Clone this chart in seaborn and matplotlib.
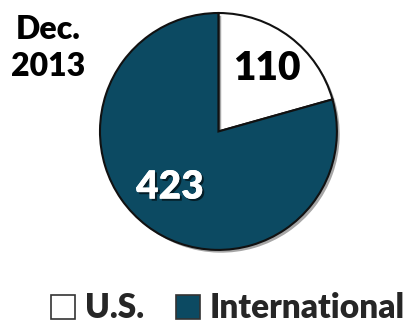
import matplotlib
matplotlib.use("Agg")
import matplotlib.pyplot as plt
import matplotlib.patheffects as pe
from matplotlib.patches import Patch
import seaborn as sns

# Customer counts by region
categories = ["U.S.", "International"]
values = [110, 423]
colors = ["#ffffff", "#0c4a62"]
title_text = "Dec.\n2013"

sns.set_theme(style="white")
plt.rcParams["font.family"] = ["Lato", "DejaVu Sans"]

WEIGHT = "heavy"

fig = plt.figure(figsize=(4.12, 3.23), dpi=100)
ax = fig.add_axes([0.2427, 0.226, 0.575, 0.734])

wedges, _ = ax.pie(
    values,
    colors=colors,
    startangle=90,
    counterclock=False,
    radius=1.0,
    wedgeprops=dict(edgecolor="#111111", linewidth=1.5),
)
# soft drop shadow under the pie
for w in wedges:
    w.set_path_effects([pe.SimplePatchShadow(offset=(2, -2), alpha=0.35,
                                             shadow_rgbFace="#000000"),
                        pe.Normal()])
ax.set_xlim(-1, 1)
ax.set_ylim(-1, 1)
ax.set_aspect("equal")
ax.axis("off")

# Value labels inside the slices
ax.text(0.41, 0.53, f"{values[0]}", ha="center", va="center",
        fontsize=28, fontweight=WEIGHT, color="black")
ax.text(-0.41, -0.47, f"{values[1]}", ha="center", va="center",
        fontsize=28, fontweight=WEIGHT, color="white",
        path_effects=[pe.withSimplePatchShadow(offset=(1.5, -1.5),
                                               shadow_rgbFace="#000000",
                                               alpha=0.6),
                      pe.Normal()])

fig.text(0.117, 0.852, title_text, ha="center", va="center",
         fontsize=23, fontweight=WEIGHT, color="black", linespacing=1.35)

handles = [Patch(facecolor=c, edgecolor="#333333", linewidth=1.2)
           for c in colors]
fig.legend(handles, categories, loc="center", bbox_to_anchor=(0.553, 0.045),
           ncol=2, frameon=False, handlelength=0.72,
           handleheight=0.72, handletextpad=0.3, columnspacing=0.95,
           prop=dict(weight=WEIGHT, size=24))

fig.savefig("out.png", dpi=100)
